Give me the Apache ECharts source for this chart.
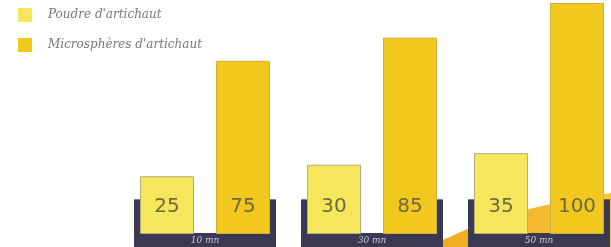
<!DOCTYPE html>
<html><head><meta charset="utf-8">
<script src="https://cdn.jsdelivr.net/npm/echarts@6/dist/echarts.min.js"></script>
<style>html,body{margin:0;padding:0;background:#fff}#c{width:611px;height:247px}</style>
</head><body><div id="c"></div>
<script>
var categories = ['10 mn', '30 mn', '50 mn'];
var seriesNames = ['Poudre d\'artichaut', 'Microsphères d\'artichaut'];
var poudre = [25, 30, 35];
var microspheres = [75, 85, 100];
var trayLevel = [15, 15, 15];

var chart = echarts.init(document.getElementById('c'));
var option = {
  animation: false,
  backgroundColor: '#ffffff',
  graphic: [{
    type: 'polygon', z: 0,
    shape: { points: [[425,247],[450,237],[480,223],[520,211],[560,202],[611,193],[611,247]] },
    style: { fill: new echarts.graphic.LinearGradient(0,1,1,0,[{offset:0,color:'#f0a81e'},{offset:1,color:'#f6c43a'}]) }
  }],
  legend: {
    orient: 'vertical', left: 18, top: 8, padding: 0, itemWidth: 14, itemHeight: 14, itemGap: 16,
    itemStyle: { borderWidth: 0 },
    data: seriesNames.map(function(n){return {name:n, icon:'rect'};}),
    textStyle: { fontFamily: 'DejaVu Serif', fontStyle: 'italic', fontSize: 12, color: '#76748e', padding: [0,0,0,11] }
  },
  grid: { left: 121.5, width: 501, top: 3, bottom: 13, outerBoundsMode: 'none', containLabel: false },
  xAxis: {
    type: 'category', data: categories, z: 10,
    axisLine: { show: false }, axisTick: { show: false },
    axisLabel: { margin: 2, verticalAlign: 'top', fontFamily: 'DejaVu Serif', fontStyle: 'italic', fontSize: 9, color: '#c9c8dc' }
  },
  yAxis: { type: 'value', min: 0, max: 100, show: false },
  series: [
    {
      type: 'custom', z: 1, silent: true,
      data: trayLevel.map(function(v,i){return [i, v];}),
      renderItem: function(params, api){
        var i = api.value(0);
        var base = api.coord([i, 0]);
        var top = api.coord([i, api.value(1)]);
        var cw = api.size([1, 0])[0];
        var hw = cw * 0.425;
        var cx = base[0], y0 = base[1] - 1;
        var col = '#3a3852';
        return { type: 'group', children: [
          { type: 'rect', shape: { x: cx - hw, y: top[1], width: 6, height: y0 - top[1] }, style: { fill: col } },
          { type: 'rect', shape: { x: cx + hw - 6, y: top[1], width: 6, height: y0 - top[1] }, style: { fill: col } },
          { type: 'rect', shape: { x: cx - hw, y: y0, width: hw * 2, height: 20 }, style: { fill: col } }
        ]};
      }
    },
    {
      name: seriesNames[0], type: 'bar', z: 2, data: poudre, barWidth: 54, barGap: '40.7%',
      itemStyle: { color: '#f6e65c', borderColor: '#b3ab78', borderWidth: 1 },
      label: { show: true, position: 'insideBottom', distance: 17, fontFamily: 'DejaVu Sans', fontSize: 20, color: '#6d6a3e' }
    },
    {
      name: seriesNames[1], type: 'bar', z: 2, data: microspheres, barWidth: 54,
      itemStyle: { color: '#f2c81e', borderColor: '#cfae3a', borderWidth: 1 },
      label: { show: true, position: 'insideBottom', distance: 17, fontFamily: 'DejaVu Sans', fontSize: 20, color: '#6d6a3e' }
    }
  ]
};
chart.setOption(option);
</script></body></html>
